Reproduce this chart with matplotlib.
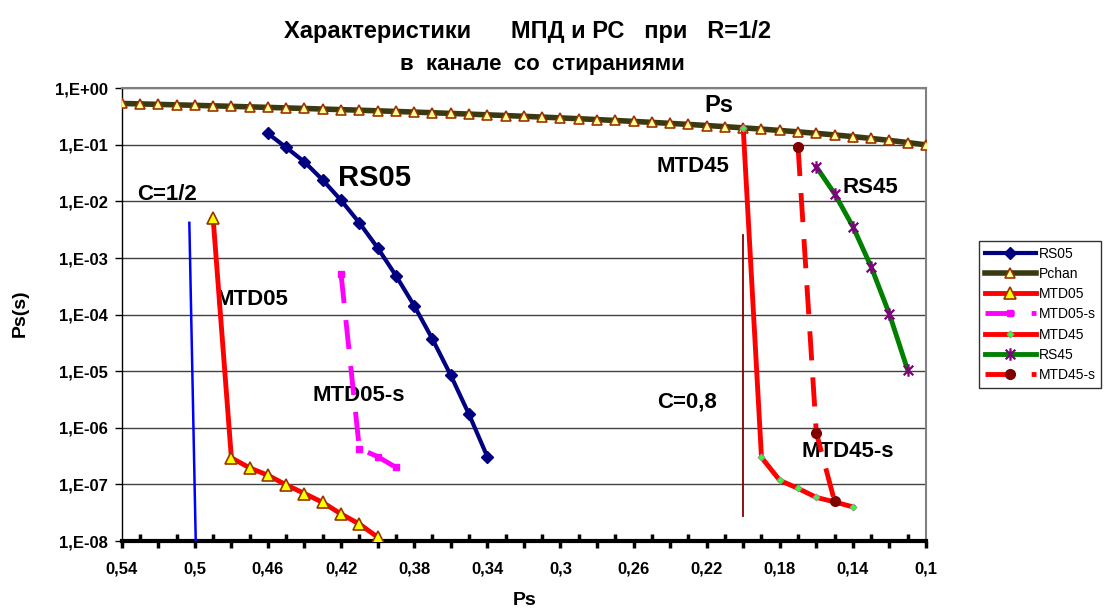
import math
import matplotlib
matplotlib.use("Agg")
import matplotlib.pyplot as plt
from matplotlib.path import Path
from matplotlib.ticker import FixedLocator, MultipleLocator, FuncFormatter, NullLocator

plt.rcParams['font.family'] = ['Liberation Sans', 'DejaVu Sans']

# Dades llegides del grafic
rs05_ps = [0.46, 0.45, 0.44, 0.43, 0.42, 0.41, 0.40, 0.39, 0.38, 0.37, 0.36, 0.35, 0.34]
rs05_val = [0.159, 0.090, 0.050, 0.0239, 0.0105, 4.2e-3, 1.52e-3, 4.9e-4,
            1.44e-4, 3.7e-5, 8.5e-6, 1.73e-6, 3.1e-7]

pchan_ps = [0.54, 0.53, 0.52, 0.51, 0.50, 0.49, 0.48, 0.47, 0.46, 0.45, 0.44, 0.43,
            0.42, 0.41, 0.40, 0.39, 0.38, 0.37, 0.36, 0.35, 0.34, 0.33, 0.32, 0.31,
            0.30, 0.29, 0.28, 0.27, 0.26, 0.25, 0.24, 0.23, 0.22, 0.21, 0.20, 0.19,
            0.18, 0.17, 0.16, 0.15, 0.14, 0.13, 0.12, 0.11, 0.10]
pchan_val = [0.54, 0.53, 0.52, 0.51, 0.50, 0.49, 0.48, 0.47, 0.46, 0.45, 0.44, 0.43,
             0.42, 0.41, 0.40, 0.39, 0.38, 0.37, 0.36, 0.35, 0.34, 0.33, 0.32, 0.31,
             0.30, 0.29, 0.28, 0.27, 0.26, 0.25, 0.24, 0.23, 0.22, 0.21, 0.20, 0.19,
             0.18, 0.17, 0.16, 0.15, 0.14, 0.13, 0.12, 0.11, 0.10]

mtd05_ps = [0.49, 0.48, 0.47, 0.46, 0.45, 0.44, 0.43, 0.42, 0.41, 0.40]
mtd05_val = [5.1e-3, 2.95e-7, 1.96e-7, 1.45e-7, 9.8e-8, 6.9e-8, 4.8e-8, 3.0e-8, 2.0e-8, 1.17e-8]

mtd05s_ps = [0.42, 0.41, 0.40, 0.39]
mtd05s_val = [5.2e-4, 4.3e-7, 3.1e-7, 2.0e-7]

mtd45_ps = [0.20, 0.19, 0.18, 0.17, 0.16, 0.15, 0.14]
mtd45_val = [0.20, 3.0e-7, 1.18e-7, 8.5e-8, 5.9e-8, 4.9e-8, 4.0e-8]

rs45_ps = [0.16, 0.15, 0.14, 0.13, 0.12, 0.11]
rs45_val = [0.041, 0.0137, 3.6e-3, 7.0e-4, 1.02e-4, 1.04e-5]

mtd45s_ps = [0.17, 0.16, 0.15]
mtd45s_val = [0.092, 8.2e-7, 5.0e-8]

# linies de capacitat
c05_ps = [0.503, 0.4995]
c05_val = [4.2e-3, 1e-8]
c08_ps = [0.20, 0.20]
c08_val = [2.6e-3, 2.8e-8]

# marcador estrella tipus Excel (X + linia vertical)
star = Path([(-1, -1), (1, 1), (-1, 1), (1, -1), (0, -1.3), (0, 1.3)],
            [Path.MOVETO, Path.LINETO, Path.MOVETO, Path.LINETO, Path.MOVETO, Path.LINETO])

fig = plt.figure(figsize=(11.04, 6.10), dpi=100)
ax = fig.add_axes([121.7 / 1104, 1 - 541 / 610, (926 - 121.7) / 1104, (541 - 88.3) / 610])
ax.set_yscale('log')

ax.plot(c05_ps, c05_val, color='#0000FF', lw=1.8, zorder=3)
ax.plot(c08_ps, c08_val, color='#800000', lw=1.3, zorder=3)

ax.plot(rs05_ps, rs05_val, color='#000080', lw=3, marker='D', ms=6.5,
        mfc='#000080', mec='#000080', label='RS05', zorder=4)
ax.plot(pchan_ps, pchan_val, color='#3a3a12', lw=4, marker='^', ms=7,
        mfc='#FFFF99', mec='#993300', mew=1.2, label='Pchan', zorder=4)
ax.plot(mtd05_ps, mtd05_val, color='#FF0000', lw=3.5, marker='^', ms=8,
        mfc='#FFFF00', mec='#993300', mew=1.2, label='MTD05', zorder=4)
ax.plot(mtd05s_ps, mtd05s_val, color='#FF00FF', lw=3.5, dashes=(6, 3.5), marker='s', ms=5,
        mfc='#FF00FF', mec='#FF00FF', label='MTD05-s', zorder=4)
ax.plot(mtd45_ps, mtd45_val, color='#FF0000', lw=3.5, marker='D', ms=3.5,
        mfc='#33FF33', mec='#999999', mew=0.8, label='MTD45', zorder=5)
ax.plot(rs45_ps, rs45_val, color='#008000', lw=3.5, marker=star, ms=9,
        mfc='none', mec='#800080', mew=1.6, label='RS45', zorder=4)
ax.plot(mtd45s_ps, mtd45s_val, color='#FF0000', lw=3.5, dashes=(6, 3.5), marker='o', ms=7,
        mfc='#800000', mec='#800000', label='MTD45-s', zorder=6)

# eixos
ax.set_xlim(0.54, 0.10)
ax.set_ylim(1e-8, 1)
ax.xaxis.set_major_locator(MultipleLocator(0.02))
ax.xaxis.set_minor_locator(MultipleLocator(0.01))


def xfmt(x, pos):
    k = int(round((0.54 - x) / 0.02))
    if k % 2:
        return ''
    return ('%g' % round(x, 2)).replace('.', ',')


ax.xaxis.set_major_formatter(FuncFormatter(xfmt))
ax.yaxis.set_major_locator(FixedLocator([1e-8, 1e-7, 1e-6, 1e-5, 1e-4, 1e-3, 1e-2, 1e-1, 1]))
ax.yaxis.set_minor_locator(NullLocator())
ax.yaxis.set_major_formatter(FuncFormatter(
    lambda y, pos: '1,E%+03d' % int(round(math.log10(y)))))

ax.tick_params(axis='x', which='major', direction='out', length=5, width=2.5,
               pad=10, labelsize=12)
ax.tick_params(axis='x', which='minor', direction='in', length=5, width=2.5)
ax.tick_params(axis='y', which='major', direction='out', length=5, width=1,
               pad=5, labelsize=12)
for lab in ax.get_xticklabels() + ax.get_yticklabels():
    lab.set_fontweight('bold')

ax.grid(axis='y', which='major', color='#404040', lw=1)
ax.spines['bottom'].set_linewidth(3)
ax.spines['left'].set_linewidth(1)
ax.spines['top'].set_color('#808080')
ax.spines['right'].set_color('#808080')
ax.spines['top'].set_linewidth(1.5)
ax.spines['right'].set_linewidth(1.5)

ax.set_xlabel('Ps', fontsize=14, fontweight='bold', va='center')
ax.xaxis.set_label_coords(0.5014, -0.1325)
ax.set_ylabel('Ps(s)', fontsize=14, fontweight='bold', va='center')
ax.yaxis.set_label_coords(-0.1264, 0.5036)

# titol
fig.text(528 / 1104, 1 - 38 / 610, 'Характеристики      МПД и РС   при   R=1/2',
         ha='center', va='baseline', fontsize=17, fontweight='bold')
fig.text(542 / 1104, 1 - 70 / 610, 'в  канале  со  стираниями',
         ha='center', va='baseline', fontsize=16, fontweight='bold')

# etiquetes dins del grafic
ax.text(0.2135, 0.49, 'Ps', fontsize=17, fontweight='bold', ha='center', va='center')
ax.text(0.4015, 0.0257, 'RS05', fontsize=21, fontweight='bold', ha='center', va='center')
ax.text(0.515, 0.0133, 'C=1/2', fontsize=16, fontweight='bold', ha='center', va='center')
ax.text(0.4685, 1.85e-4, 'MTD05', fontsize=16, fontweight='bold', ha='center', va='center')
ax.text(0.4102, 3.7e-6, 'MTD05-s', fontsize=16, fontweight='bold', ha='center', va='center')
ax.text(0.2273, 0.0407, 'MTD45', fontsize=16, fontweight='bold', ha='center', va='center')
ax.text(0.1307, 0.0177, 'RS45', fontsize=16, fontweight='bold', ha='center', va='center')
ax.text(0.2305, 2.9e-6, 'C=0,8', fontsize=16, fontweight='bold', ha='center', va='center')
ax.text(0.143, 3.8e-7, 'MTD45-s', fontsize=16, fontweight='bold', ha='center', va='center')

leg = fig.legend(loc='upper left', bbox_to_anchor=(979 / 1104, 1 - 241 / 610),
                 borderaxespad=0, fontsize=10, frameon=True, fancybox=False,
                 edgecolor='black', handlelength=3.7, handletextpad=0.2,
                 labelspacing=0.45, borderpad=0.4)
leg.get_frame().set_linewidth(1)

fig.savefig('out.png', dpi=100)
